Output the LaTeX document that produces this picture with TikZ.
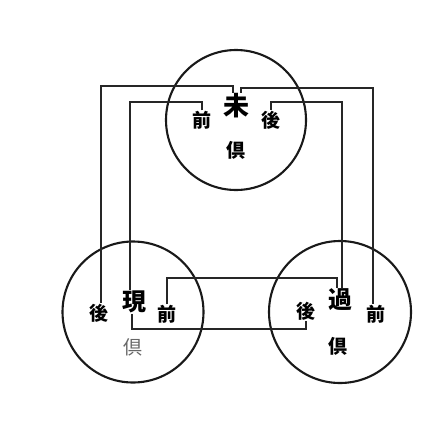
\documentclass[tikz,border=0pt]{standalone}
\usepackage{fontspec}
\newfontfamily\cjk{Noto Sans CJK JP}
\begin{document}
\begin{tikzpicture}[x=1pt,y=-1pt,
  ring/.style={draw=black!90,line width=2.1pt},
  link/.style={draw=black!85,line width=1.5pt},
  big/.style={font=\cjk\bfseries\fontsize{26}{26}\selectfont,inner sep=0.5pt},
  mid/.style={font=\cjk\bfseries\fontsize{24}{24}\selectfont,inner sep=0.5pt},
  small/.style={font=\cjk\bfseries\fontsize{19}{19}\selectfont,inner sep=0.5pt}]
\useasboundingbox (0,0) rectangle (427,423);
% circles
\node[ring,circle,minimum size=140pt,inner sep=0pt] (ct) at (236,120) {};
\node[ring,circle,minimum size=141pt,inner sep=0pt] (cl) at (133,312) {};
\node[ring,circle,minimum size=142pt,inner sep=0pt] (cr) at (340,312) {};
% top circle texts
\node[big] (mi) at (236,106) {未};
\node[small] (tq) at (202,120) {前};
\node[small] (th) at (271,120) {後};
\node[small] (tj) at (236,150) {倶};
% bottom-left texts
\node[small] (lh) at (99,313) {後};
\node[mid] (lx) at (134,302) {現};
\node[small] (lq) at (167,314) {前};
\node[small,text=black!60,font=\cjk\fontsize{19}{19}\selectfont] (lj) at (133,347) {倶};
% bottom-right texts
\node[mid] (rg) at (340,300) {過};
\node[small] (rh) at (306,311) {後};
\node[small] (rq) at (376,314) {前};
\node[small] (rj) at (338,346) {倶};
% helper levels
\coordinate (yA) at (0,86);
\coordinate (yB) at (0,88);
\coordinate (yC) at (0,102);
\coordinate (yD) at (0,278);
\coordinate (yE) at (0,329);
\coordinate (xA) at (101,0);
\coordinate (xB) at (373,0);
\coordinate (xC) at (130,0);
\coordinate (xD) at (342,0);
% connectors
\draw[link] ([xshift=-3pt]mi.north) |- (xA |- yA) -- (xA |- lh.north);
\draw[link] ([xshift=5pt]mi.north) |- (xB |- yB) -- (xB |- rq.north);
\draw[link] (tq.north) |- (xC |- yC) -- (xC |- lx.north);
\draw[link] (th.north) |- (xD |- yC) -- (xD |- rg.north);
\draw[link] (lq.north) |- ([xshift=-3pt]rg.north |- yD) -- ([xshift=-3pt]rg.north);
\draw[link] ([xshift=-2pt]lx.south) |- (rh.south |- yE) -- (rh.south);
\end{tikzpicture}
\end{document}
